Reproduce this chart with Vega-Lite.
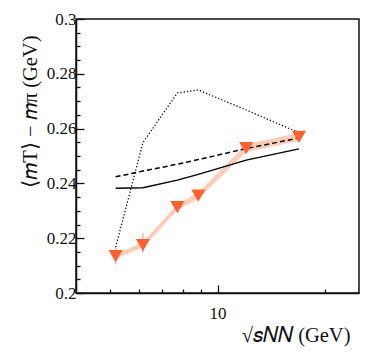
{
  "$schema": "https://vega.github.io/schema/vega-lite/v6.json",
  "autosize": "none",
  "width": 283,
  "height": 274,
  "padding": {"left": 76, "top": 19, "right": 15, "bottom": 65},
  "background": "white",
  "config": {
    "view": {"stroke": "#111", "strokeWidth": 1.5},
    "axis": {"grid": false, "domainColor": "#111", "domainWidth": 1.5, "tickColor": "#111", "tickWidth": 1.3,
      "labelFont": "Liberation Serif", "labelFontSize": 17, "labelColor": "#111",
      "titleFont": "Liberation Serif", "titleFontSize": 20.5, "titleFontWeight": "normal", "titleColor": "#111"}
  },
  "datasets": {
    "exp": [
      {"x": 5.17, "y": 0.2135, "blo": 0.2127, "bhi": 0.2143, "lo": 0.2105, "hi": 0.2165},
      {"x": 6.17, "y": 0.2175, "blo": 0.2166, "bhi": 0.2184, "lo": 0.2149, "hi": 0.2218},
      {"x": 7.71, "y": 0.2313, "blo": 0.2303, "bhi": 0.2323, "lo": 0.2298, "hi": 0.2328},
      {"x": 8.83, "y": 0.2355, "blo": 0.2343, "bhi": 0.2367, "lo": 0.2340, "hi": 0.2370},
      {"x": 12.04, "y": 0.2529, "blo": 0.2515, "bhi": 0.2543, "lo": 0.2514, "hi": 0.2544},
      {"x": 16.95, "y": 0.2570, "blo": 0.2555, "bhi": 0.2585, "lo": 0.2555, "hi": 0.2585}
    ],
    "models": [
      {"x": 5.17, "y": 0.2382, "model": "solid"},
      {"x": 6.17, "y": 0.2384, "model": "solid"},
      {"x": 7.71, "y": 0.2412, "model": "solid"},
      {"x": 8.83, "y": 0.2433, "model": "solid"},
      {"x": 12.04, "y": 0.2485, "model": "solid"},
      {"x": 16.95, "y": 0.2526, "model": "solid"},
      {"x": 5.17, "y": 0.2424, "model": "dashed"},
      {"x": 6.17, "y": 0.2445, "model": "dashed"},
      {"x": 7.71, "y": 0.2470, "model": "dashed"},
      {"x": 8.83, "y": 0.2487, "model": "dashed"},
      {"x": 12.04, "y": 0.2527, "model": "dashed"},
      {"x": 16.95, "y": 0.2566, "model": "dashed"},
      {"x": 5.17, "y": 0.2167, "model": "dotted"},
      {"x": 6.17, "y": 0.2549, "model": "dotted"},
      {"x": 7.71, "y": 0.2730, "model": "dotted"},
      {"x": 8.83, "y": 0.2741, "model": "dotted"},
      {"x": 12.04, "y": 0.2668, "model": "dotted"},
      {"x": 16.95, "y": 0.2585, "model": "dotted"}
    ]
  },
  "encoding": {
    "x": {"field": "x", "type": "quantitative",
      "scale": {"type": "log", "domain": [4, 25], "nice": false},
      "axis": {"title": "√𝑠𝑁𝑁 (GeV)", "values": [5, 6, 7, 8, 9, 10, 20],
        "labelExpr": "datum.value == 10 ? '10' : ''",
        "tickSize": {"condition": {"test": "datum.value == 10", "value": -8}, "value": -4},
        "labelPadding": 20, "labelFlush": false, "labelOverlap": false,
        "titleAnchor": "end", "titleX": 274, "titleAlign": "right", "titlePadding": 0}},
    "y": {"field": "y", "type": "quantitative",
      "scale": {"domain": [0.2, 0.3], "nice": false, "zero": false},
      "axis": {"title": "⟨𝑚T⟩ − 𝑚π (GeV)",
        "values": [0.2, 0.205, 0.21, 0.215, 0.22, 0.225, 0.23, 0.235, 0.24, 0.245, 0.25, 0.255, 0.26, 0.265, 0.27, 0.275, 0.28, 0.285, 0.29, 0.295, 0.3],
        "labelExpr": "abs(datum.value*50 - round(datum.value*50)) < 0.001 ? format(datum.value, '~g') : ''",
        "tickSize": {"condition": {"test": "abs(datum.value*50 - round(datum.value*50)) < 0.001", "value": -8}, "value": -4},
        "labelPadding": 8, "labelOverlap": false, "labelFlush": false,
        "titleAnchor": "end", "titleY": 16, "titlePadding": 6}}
  },
  "layer": [
    {"data": {"name": "exp"}, "mark": {"type": "area", "color": "#FFCDBA", "opacity": 1},
      "encoding": {"y": {"field": "blo", "type": "quantitative"}, "y2": {"field": "bhi"}}},
    {"data": {"name": "exp"}, "mark": {"type": "line", "color": "#FFCDBA", "strokeWidth": 3.5}},
    {"data": {"name": "exp"}, "mark": {"type": "rule", "color": "#FFB49A", "strokeWidth": 1.5},
      "encoding": {"y": {"field": "lo", "type": "quantitative"}, "y2": {"field": "hi"}}},
    {"data": {"name": "models"}, "transform": [{"filter": "datum.model == 'solid'"}],
      "mark": {"type": "line", "color": "#000", "strokeWidth": 1.5}},
    {"data": {"name": "models"}, "transform": [{"filter": "datum.model == 'dashed'"}],
      "mark": {"type": "line", "color": "#000", "strokeWidth": 1.5, "strokeDash": [5, 3]}},
    {"data": {"name": "models"}, "transform": [{"filter": "datum.model == 'dotted'"}],
      "mark": {"type": "line", "color": "#000", "strokeWidth": 1.2, "strokeDash": [1.3, 2.0]}},
    {"data": {"name": "exp"}, "mark": {"type": "point", "shape": "triangle-down", "filled": true, "color": "#FF6131", "opacity": 1, "size": 200}}
  ]
}
